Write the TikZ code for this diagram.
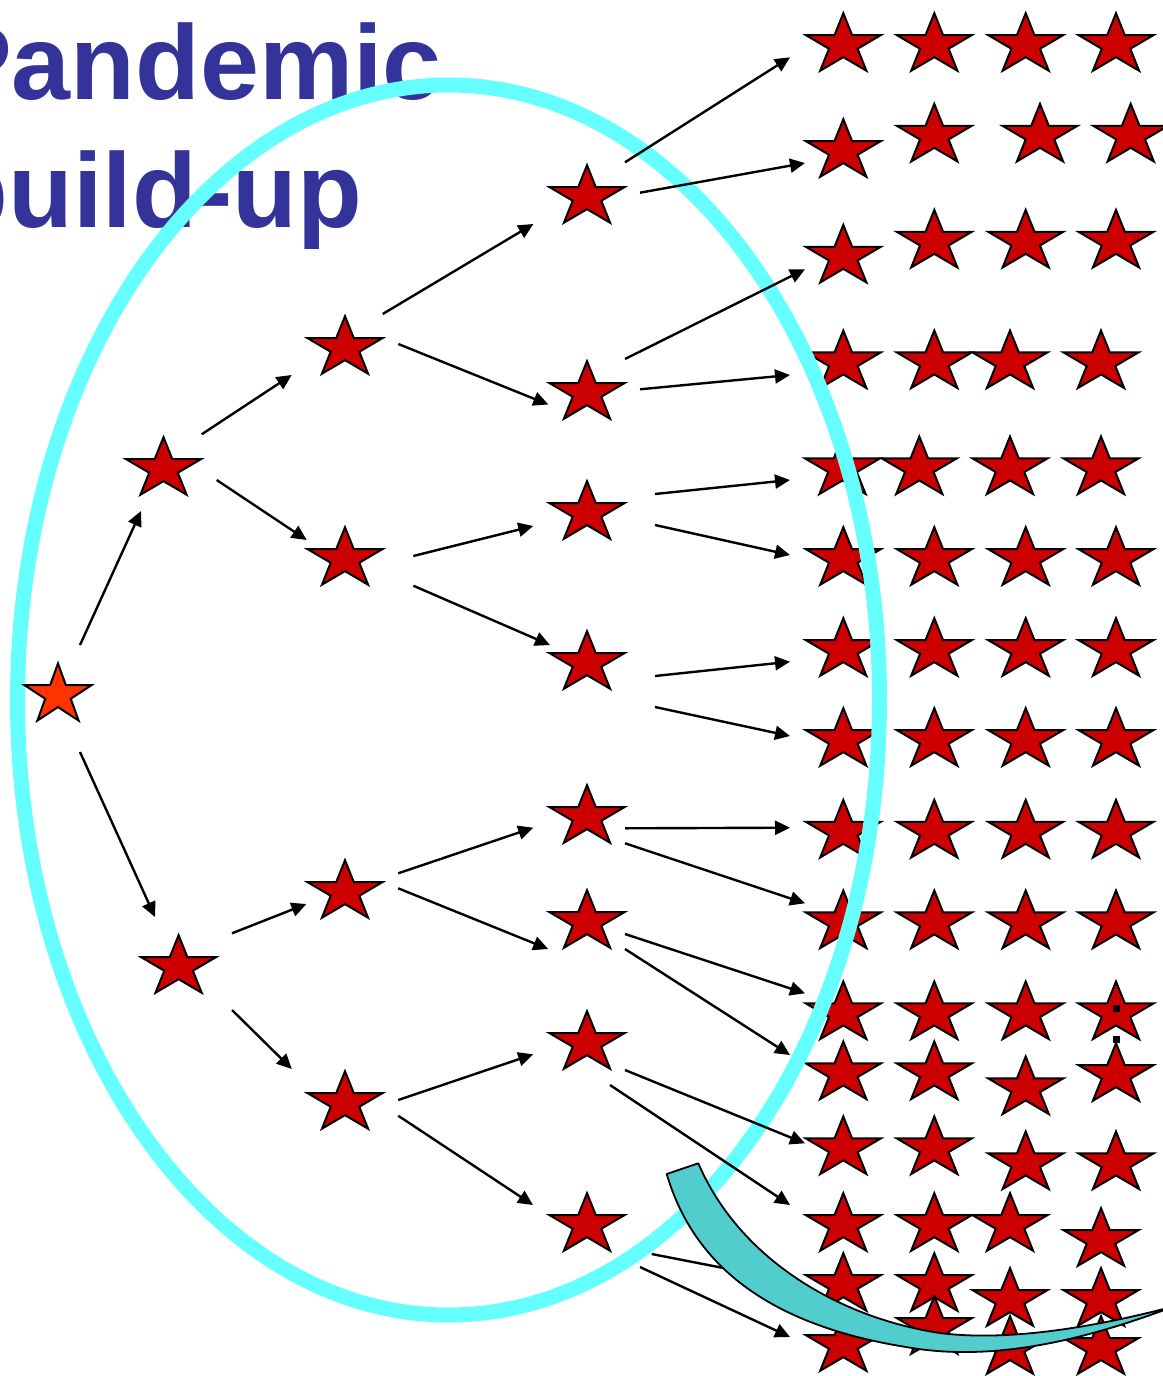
\documentclass[tikz,border=0pt]{standalone}
\usepackage{fontspec}
\setmainfont{Liberation Sans}
\usetikzlibrary{arrows.meta}

\definecolor{starred}{RGB}{204,0,0}
\definecolor{rootred}{RGB}{255,51,0}
\definecolor{ringcyan}{RGB}{102,255,255}
\definecolor{bandteal}{RGB}{82,205,205}
\definecolor{titleblue}{RGB}{51,51,153}

\tikzset{
  starline/.style={draw=black, line width=2pt, line join=miter},
  pics/fieldstar/.style={code={
    \coordinate (-c) at (0,0);
    \path[starline, fill=starred, xscale=39.3, yscale=-31.8]
      (90:1) -- (126:0.382) -- (162:1) -- (198:0.382) -- (234:1) -- (270:0.382)
      -- (306:1) -- (342:0.382) -- (18:1) -- (54:0.382) -- cycle;
  }},
  pics/rootstar/.style={code={
    \coordinate (-c) at (0,0);
    \path[starline, fill=rootred, xscale=35.1, yscale=-31.6]
      (90:1) -- (126:0.382) -- (162:1) -- (198:0.382) -- (234:1) -- (270:0.382)
      -- (306:1) -- (342:0.382) -- (18:1) -- (54:0.382) -- cycle;
  }},
  arr/.style={draw=black, line width=2.4pt, -{Triangle[length=15pt,width=14pt]}},
  ring/.style={draw=ringcyan, line width=15pt},
  band/.style={draw=black, line width=1.8pt, fill=bandteal, line join=round},
  headline/.style={anchor=base east, text=titleblue, inner sep=0pt,
    font=\fontsize{106pt}{127pt}\selectfont\bfseries},
}

\begin{document}
\begin{tikzpicture}[x=1pt,y=-1pt]
\useasboundingbox (0,0) rectangle (1162,1376);

% title
\node[headline] (title1) at (442,99) {Pandemic};
\node[headline] (title2) at (362,227) {build-up};

% field of cases on the right
\foreach \px/\py/\nm in {
  843.3/45/r1c1, 934.3/45/r1c2, 1025.7/45/r1c3, 1116/45/r1c4,
  843.3/151/r2c1, 934.3/135.7/r2c2, 1040/135.7/r2c3, 1130.7/135.7/r2c4,
  843.3/256.7/r3c1, 934.3/241.7/r3c2, 1025.7/241.7/r3c3, 1116/241.7/r3c4,
  843.3/362.3/r4c1, 934.3/362.3/r4c2, 1010/362.3/r4c3, 1101/362.3/r4c4,
  842.5/468.3/r5c1, 919.3/468.3/r5c2, 1010/468.3/r5c3, 1101/468.3/r5c4,
  843.3/559/r6c1, 934.3/559/r6c2, 1025.7/559/r6c3, 1116/559/r6c4,
  843.3/650/r7c1, 934.3/650/r7c2, 1025.7/650/r7c3, 1116/650/r7c4,
  843.3/740/r8c1, 934.3/740/r8c2, 1025.7/740/r8c3, 1116/740/r8c4,
  843.3/831.7/r9c1, 934.3/831.7/r9c2, 1025.7/831.7/r9c3, 1116/831.7/r9c4,
  843.3/922.3/r10c1, 934.3/922.3/r10c2, 1025.7/922.3/r10c3, 1116/922.3/r10c4,
  843.3/1013.3/r11c1, 934.3/1013.3/r11c2, 1025.7/1013.3/r11c3, 1116/1013.3/r11c4,
  843.3/1073.3/r12c1, 934.3/1073.3/r12c2, 1025.7/1088.3/r12c3, 1116/1075/r12c4,
  843.3/1148.3/r13c1, 934.3/1148.3/r13c2, 1025.7/1163.3/r13c3, 1116/1163.3/r13c4,
  843.3/1225/r14c1, 934.3/1225/r14c2, 1010/1225/r14c3, 1101/1240/r14c4,
  843.3/1285/r15c1, 934.3/1285/r15c2, 1010/1300/r15c3, 1101/1300/r15c4,
  843.3/1345/r16c1, 934.3/1328/r16c2, 1010/1348/r16c3, 1101/1348/r16c4}
  { \pic (\nm) at (\px,\py) {fieldstar}; }

% boundary ring
\draw[ring] (448.5,700) ellipse [x radius=431, y radius=615];

% transmission tree
\pic (root) at (58,695) {rootstar};
\pic (a1) at (163.5,469) {fieldstar};
\pic (b1) at (178.6,967) {fieldstar};
\pic (a2) at (345,348) {fieldstar};
\pic (a3) at (345,559) {fieldstar};
\pic (b2) at (345,892) {fieldstar};
\pic (b3) at (345,1103) {fieldstar};
\pic (c1) at (587,197) {fieldstar};
\pic (c2) at (587,393) {fieldstar};
\pic (c3) at (587,513) {fieldstar};
\pic (c4) at (587,663) {fieldstar};
\pic (c5) at (587,817) {fieldstar};
\pic (c6) at (587,922) {fieldstar};
\pic (c7) at (587,1043) {fieldstar};
\pic (c8) at (587,1225) {fieldstar};

\draw[arr] ([shift={(22,-50)}]root-c) -- ([shift={(-22.5,42)}]a1-c);
\draw[arr] ([shift={(22,57)}]root-c) -- ([shift={(-23.6,-50)}]b1-c);
\draw[arr] ([shift={(38.2,-34.7)}]a1-c) -- ([shift={(-53.3,27)}]a2-c);
\draw[arr] ([shift={(53.2,11)}]a1-c) -- ([shift={(-38.3,-19)}]a3-c);
\draw[arr] ([shift={(37.7,-34)}]a2-c) -- ([shift={(-53.7,27)}]c1-c);
\draw[arr] ([shift={(53.3,-4)}]a2-c) -- ([shift={(-38.7,11.5)}]c2-c);
\draw[arr] ([shift={(68.3,-3)}]a3-c) -- ([shift={(-53.7,13)}]c3-c);
\draw[arr] ([shift={(68.3,26.7)}]a3-c) -- ([shift={(-37,-18)}]c4-c);
\draw[arr] ([shift={(53.4,-33.7)}]b1-c) -- ([shift={(-38.6,12)}]b2-c);
\draw[arr] ([shift={(53.4,43)}]b1-c) -- ([shift={(-53.2,-34)}]b3-c);
\draw[arr] ([shift={(53.2,-18.7)}]b2-c) -- ([shift={(-53.8,10.7)}]c5-c);
\draw[arr] ([shift={(53.2,-3.7)}]b2-c) -- ([shift={(-38.8,27)}]c6-c);
\draw[arr] ([shift={(53.2,-3)}]b3-c) -- ([shift={(-53.8,11.3)}]c7-c);
\draw[arr] ([shift={(53.2,12.7)}]b3-c) -- ([shift={(-54,-20)}]c8-c);

% spread into the field
\draw[arr] ([shift={(38,-34.7)}]c1-c) -- ([shift={(-53.3,12.3)}]r1c1-c);
\draw[arr] ([shift={(53,-4.3)}]c1-c) -- ([shift={(-38.3,12)}]r2c1-c);
\draw[arr] ([shift={(38,-34)}]c2-c) -- ([shift={(-38.3,12.6)}]r3c1-c);
\draw[arr] ([shift={(53,-3.7)}]c2-c) -- ([shift={(-53.3,12.7)}]r4c1-c);
\draw[arr] ([shift={(68,-19)}]c3-c) -- ([shift={(-52.5,11.7)}]r5c1-c);
\draw[arr] ([shift={(68,12)}]c3-c) -- ([shift={(-53.3,-4)}]r6c1-c);
\draw[arr] ([shift={(68,13)}]c4-c) -- ([shift={(-53.3,11.7)}]r7c1-c);
\draw[arr] ([shift={(68,44)}]c4-c) -- ([shift={(-53.3,-4)}]r8c1-c);
\draw[arr] ([shift={(38,11.3)}]c5-c) -- ([shift={(-53.3,-4)}]r9c1-c);
\draw[arr] ([shift={(38,26.3)}]c5-c) -- ([shift={(-38.3,-19)}]r10c1-c);
\draw[arr] ([shift={(38,12)}]c6-c) -- ([shift={(-38.3,-20)}]r11c1-c);
\draw[arr] ([shift={(38,27)}]c6-c) -- ([shift={(-53.3,-18.3)}]r12c1-c);
\draw[arr] ([shift={(38,27)}]c7-c) -- ([shift={(-38.3,-5)}]r13c1-c);
\draw[arr] ([shift={(23,42)}]c7-c) -- ([shift={(-53.3,-20)}]r14c1-c);
\draw[arr] ([shift={(64.7,29)}]c8-c) -- ([shift={(-53.3,-4)}]r15c1-c);
\draw[arr] ([shift={(53,42)}]c8-c) -- ([shift={(-53.3,-8)}]r16c1-c);

% curved block arrow
\path[band] (666.7,1174)
  .. controls (695,1270) and (775,1326) .. (906,1347)
  .. controls (990,1362) and (1080,1342) .. (1175,1306)
  .. controls (1100,1326) and (1010,1342) .. (940,1333)
  .. controls (840,1318) and (740,1260) .. (698.3,1163.3)
  -- cycle;

% small marks
\fill[black] (1113.2,1004.5) rectangle ++(7,7);
\fill[black] (1113.2,1036) rectangle ++(7,7);
\end{tikzpicture}
\end{document}
